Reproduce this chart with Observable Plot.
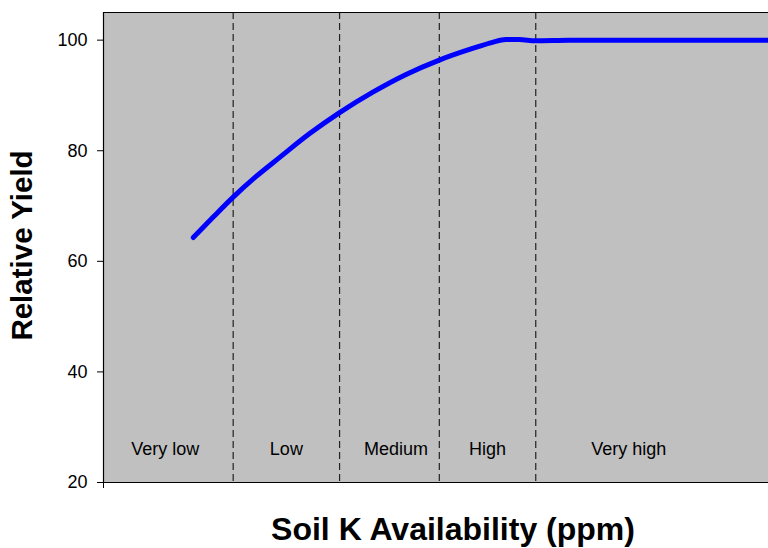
<!DOCTYPE html>
<html>
<head>
<meta charset="utf-8">
<script src="https://cdn.jsdelivr.net/npm/d3@7"></script>
<script src="https://cdn.jsdelivr.net/npm/@observablehq/plot@0.6"></script>
<style>
  html, body { margin: 0; padding: 0; background: #fff; }
  body { width: 768px; height: 548px; overflow: hidden; font-family: "Liberation Sans", Arial, sans-serif; }
</style>
</head>
<body>
<div id="chart"></div>
<script>
// Soil K availability (ppm) and relative yield
const ppm = [27, 33, 39, 46, 53, 62, 71, 81, 91, 101, 111, 117, 121, 125, 130, 140, 200];
const yieldPct = [64.3, 68.0, 71.6, 75.4, 78.8, 83.1, 86.9, 90.6, 93.8, 96.4, 98.5, 99.6, 100.1, 100.1, 99.9, 100, 100];

// Category boundaries (ppm) and categories
const boundaries = [39, 71, 101, 130];
const categories = ["Very low", "Low", "Medium", "High", "Very high"];
const categoryCenters = [18.6, 55, 88, 115.5, 158];
const labelY = 26;

const yTicks = [20, 40, 60, 80, 100];

const curve = ppm.map((x, i) => ({x, y: yieldPct[i]}));
const labels = categories.map((c, i) => ({c, x: categoryCenters[i]}));

const chart = Plot.plot({
  width: 768,
  height: 548,
  marginLeft: 103,
  marginRight: 0,
  marginTop: 12,
  marginBottom: 66,
  style: {fontFamily: "Liberation Sans, Arial, sans-serif", fontSize: "18px", background: "#fff", color: "#000"},
  x: {domain: [0, 200], axis: null},
  y: {domain: [20, 105], axis: null},
  marks: [
    Plot.frame({fill: "#c0c0c0", stroke: "none"}),
    Plot.ruleX(boundaries, {stroke: "#222", strokeWidth: 1.2, strokeDasharray: "7,4"}),
    Plot.text(labels, {x: "x", y: labelY, text: "c", fontSize: 18, fill: "#000"}),
    Plot.line(curve, {x: "x", y: "y", stroke: "#0000ff", strokeWidth: 5, strokeLinecap: "round", strokeLinejoin: "round", curve: "monotone-x"}),
    Plot.ruleY([105, 20], {stroke: "#000", strokeWidth: 1.2}),
    Plot.ruleX([0], {stroke: "#000", strokeWidth: 1.2}),
    Plot.axisY(yTicks, {tickSize: 6, tickPadding: 10, fontSize: 18, label: null, stroke: "#000"}),
    Plot.axisX([0], {tickSize: 6, tickFormat: () => "", label: null, stroke: "#000"}),
    Plot.text(["Soil K Availability (ppm)"], {frameAnchor: "bottom", textAnchor: "middle", dy: 57, dx: 17, fontSize: 32, fontWeight: "bold", fill: "#000"}),
    Plot.text(["Relative Yield"], {frameAnchor: "left", textAnchor: "middle", dx: -81, dy: -2, rotate: -90, fontSize: 29.5, fontWeight: "bold", fill: "#000"})
  ]
});
document.getElementById("chart").appendChild(chart);
</script>
</body>
</html>
